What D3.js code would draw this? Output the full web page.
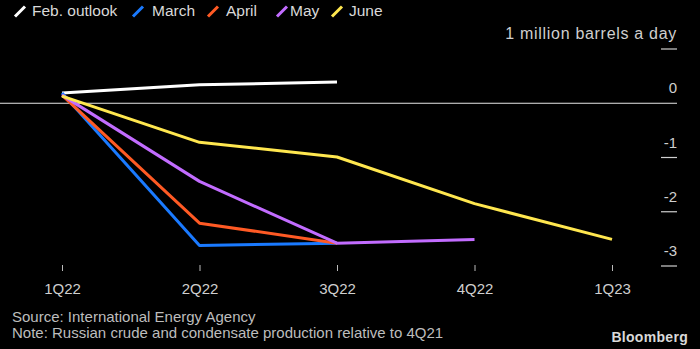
<!DOCTYPE html>
<html lang="en">
<head>
  <meta charset="UTF-8" />
  <title>Russian oil output outlook</title>
  <script src="https://cdn.jsdelivr.net/npm/d3@7"></script>
  <style>
    body { margin: 0; background: #000; }
    svg { display: block; font-family: "Liberation Sans", Arial, sans-serif; }
  </style>
</head>
<body>
<script>
  // chart data
  const quarters = ["1Q22", "2Q22", "3Q22", "4Q22", "1Q23"];
  const febOutlook = [0.19, 0.34, 0.39];
  const march = [0.19, -2.62, -2.58];
  const april = [0.15, -2.21, -2.58];
  const may = [0.15, -1.44, -2.58, -2.51];
  const june = [0.13, -0.72, -0.99, -1.85, -2.51];
  const yTicks = [1, 0, -1, -2, -3];

  const series = [
    { name: "Feb. outlook", color: "#ffffff", values: febOutlook },
    { name: "March", color: "#1a7aff", values: march },
    { name: "April", color: "#ff5a24", values: april },
    { name: "May", color: "#c26cff", values: may },
    { name: "June", color: "#ffe74f", values: june }
  ];

  const width = 700, height = 349;
  const svg = d3.select("body").append("svg")
    .attr("width", width).attr("height", height);

  svg.append("rect").attr("width", width).attr("height", height).attr("fill", "#000");

  const x = d3.scaleLinear().domain([0, quarters.length - 1]).range([62, 612]);
  const y = d3.scaleLinear().domain([-3, 1]).range([266, 49]);

  // legend
  const legendX = [15, 133, 208, 277, 332];
  const legendTextX = [32, 152, 226, 290, 349];
  const legend = svg.append("g");
  series.forEach((s, i) => {
    legend.append("line")
      .attr("x1", legendX[i]).attr("y1", 16.5)
      .attr("x2", legendX[i] + 10).attr("y2", 6.5)
      .attr("stroke", s.color).attr("stroke-width", 3);
    legend.append("text")
      .attr("x", legendTextX[i]).attr("y", 16)
      .attr("fill", "#d9d9d9").attr("font-size", 15.5)
      .text(s.name);
  });

  // y axis on the right, labels sit above the tick lines
  const yAxis = svg.append("g");
  yAxis.selectAll("line.tick")
    .data(yTicks.filter(d => d !== 0))
    .enter().append("line")
    .attr("x1", 661).attr("x2", 677)
    .attr("y1", d => y(d)).attr("y2", d => y(d))
    .attr("stroke", "#cfcfcf").attr("stroke-width", 1.2);
  yAxis.selectAll("text")
    .data(yTicks)
    .enter().append("text")
    .attr("x", 677).attr("y", d => y(d) - 10)
    .attr("text-anchor", "end")
    .attr("fill", "#cfcfcf")
    .attr("font-size", d => d === 1 ? 16 : 15)
    .attr("letter-spacing", d => d === 1 ? 0.7 : 0)
    .text(d => d === 1 ? "1 million barrels a day" : String(d));

  // zero line
  svg.append("line")
    .attr("x1", 0).attr("x2", 677)
    .attr("y1", y(0)).attr("y2", y(0))
    .attr("stroke", "#e6e6e6").attr("stroke-width", 1);

  // x axis
  const xAxis = svg.append("g").attr("transform", "translate(0,265)")
    .call(d3.axisBottom(x).tickValues(d3.range(quarters.length))
      .tickFormat(i => quarters[i]).tickSize(6));
  xAxis.select(".domain").remove();
  xAxis.selectAll(".tick line").attr("stroke", "#bbbbbb");
  xAxis.selectAll(".tick text")
    .attr("y", 29).attr("dy", null)
    .attr("fill", "#cfcfcf").attr("font-size", 15)
    .attr("font-family", "Liberation Sans, Arial, sans-serif");

  // lines
  const line = d3.line().x((d, i) => x(i)).y(d => y(d));
  svg.append("g").selectAll("path")
    .data(series)
    .enter().append("path")
    .attr("d", d => line(d.values))
    .attr("fill", "none")
    .attr("stroke", d => d.color)
    .attr("stroke-width", 3)
    .attr("stroke-linejoin", "round");

  // footer
  svg.append("text").attr("x", 12).attr("y", 322)
    .attr("fill", "#bdbdbd").attr("font-size", 15)
    .text("Source: International Energy Agency");
  svg.append("text").attr("x", 12).attr("y", 338)
    .attr("fill", "#bdbdbd").attr("font-size", 15)
    .text("Note: Russian crude and condensate production relative to 4Q21");
  svg.append("text").attr("x", 688).attr("y", 342)
    .attr("text-anchor", "end")
    .attr("fill", "#d9d9d9").attr("font-size", 14).attr("font-weight", "bold")
    .attr("letter-spacing", 0.3)
    .text("Bloomberg");
</script>
</body>
</html>
